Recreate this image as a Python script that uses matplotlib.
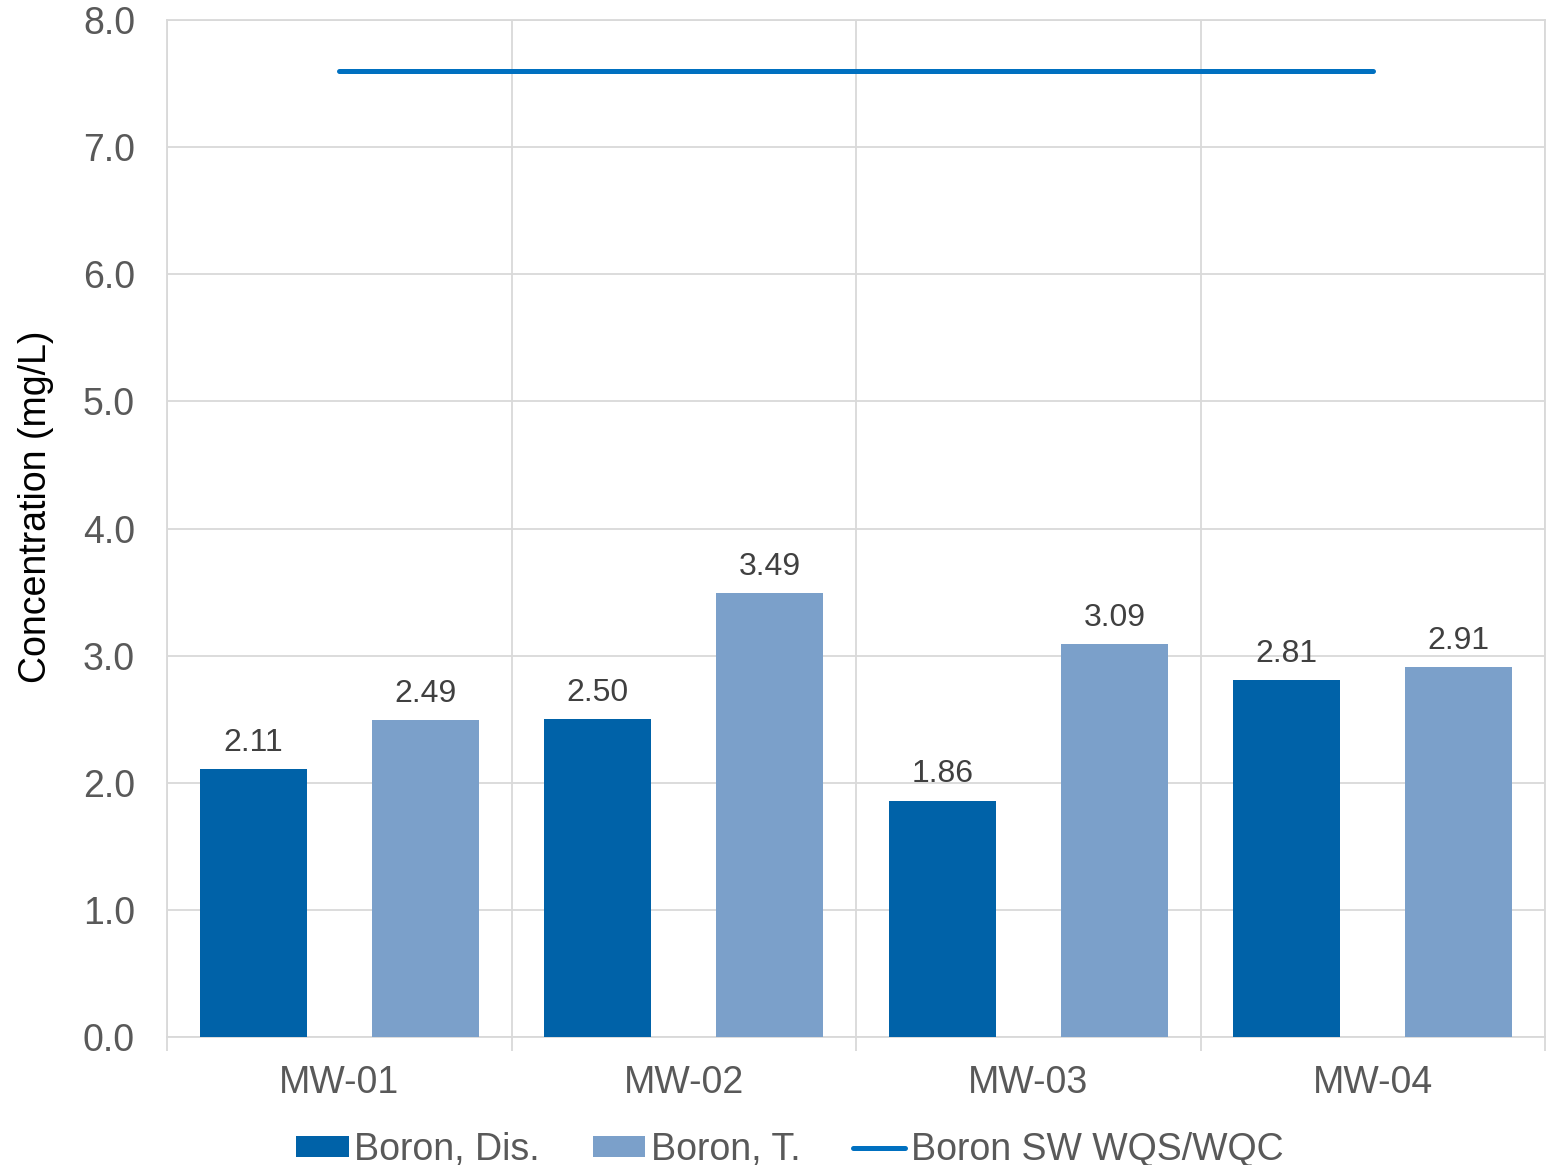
import matplotlib.pyplot as plt
import numpy as np

plt.rcParams['font.family'] = ['Liberation Sans', 'DejaVu Sans']

wells = ['MW-01', 'MW-02', 'MW-03', 'MW-04']
boron_dis = [2.11, 2.50, 1.86, 2.81]
boron_t = [2.49, 3.49, 3.09, 2.91]
boron_std = [7.6, 7.6, 7.6, 7.6]

c_dis = '#0062A8'
c_t = '#7BA0CA'
c_line = '#0070C0'
grid_c = '#D9D9D9'
tick_c = '#595959'
lab_c = '#404040'

fig = plt.figure(figsize=(15.52, 11.65), dpi=100)
ax = fig.add_axes([0.1076, 0.1099, 0.8879, 0.8729])

x = np.arange(len(wells))
w = 0.311
b1 = ax.bar(x - 0.25, boron_dis, w, color=c_dis, label='Boron, Dis.', zorder=3)
b2 = ax.bar(x + 0.25, boron_t, w, color=c_t, label='Boron, T.', zorder=3)
ln, = ax.plot(x, boron_std, color=c_line, lw=3.6, solid_capstyle='round',
              label='Boron SW WQS/WQC', zorder=4)

for bars, vals in ((b1, boron_dis), (b2, boron_t)):
    for r, v in zip(bars, vals):
        ax.annotate(f'{v:.2f}', (r.get_x() + r.get_width() / 2, v),
                    xytext=(0, 8), textcoords='offset points',
                    ha='center', va='bottom', fontsize=23, color=lab_c)

ax.set_xlim(-0.5, 3.5)
ax.set_ylim(0, 8)
ax.set_yticks(np.arange(0, 8.1, 1.0))
ax.set_yticklabels([f'{v:.1f}' for v in np.arange(0, 8.1, 1.0)])
ax.set_xticks(x)
ax.set_xticklabels(wells)
ax.set_xticks(np.arange(-0.5, 3.6, 1.0), minor=True)

ax.tick_params(axis='x', which='major', length=0, pad=20, labelsize=27, labelcolor=tick_c)
ax.tick_params(axis='x', which='minor', length=10, width=1.3, color=grid_c)
ax.tick_params(axis='y', length=0, pad=23, labelsize=27, labelcolor=tick_c)

ax.grid(axis='y', which='major', color=grid_c, lw=1.3, zorder=0)
ax.grid(axis='x', which='minor', color=grid_c, lw=1.3, zorder=0)
for s in ax.spines.values():
    s.set_color(grid_c)
    s.set_linewidth(1.3)

ax.set_ylabel('Concentration (mg/L)', fontsize=27, color='black')
ax.yaxis.set_label_coords(-0.082, 0.521)

fig.legend(handles=[b1, b2, ln], loc='center', bbox_to_anchor=(0.509, 0.013), ncol=3,
           frameon=False, fontsize=27, handlelength=1.4, handleheight=0.5,
           handletextpad=0.15, columnspacing=1.4, labelcolor=tick_c)

fig.savefig('out.png', dpi=100)
